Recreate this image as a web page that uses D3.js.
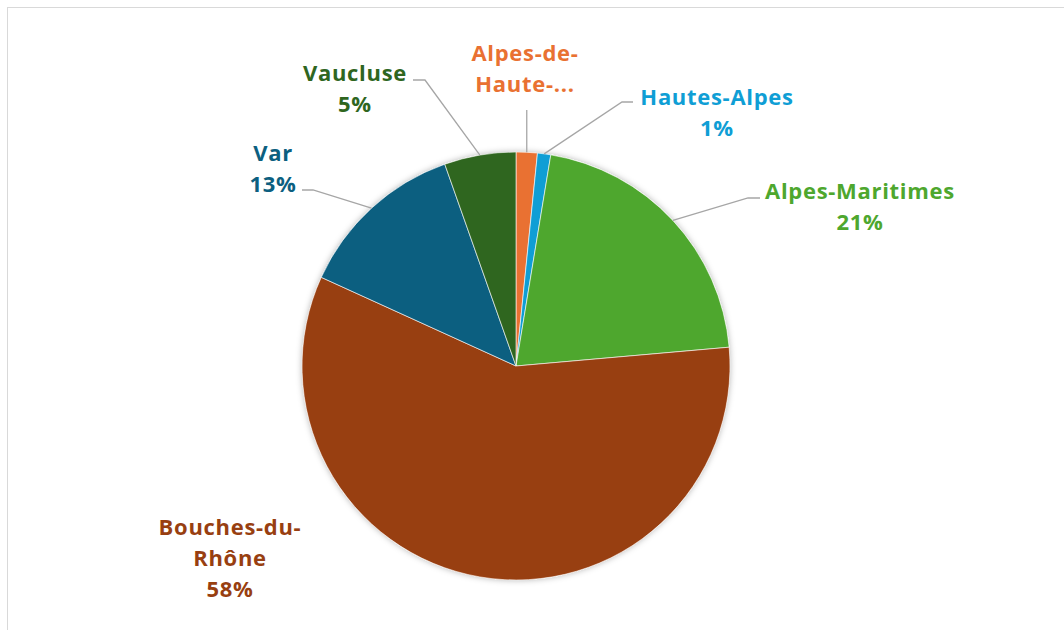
<!DOCTYPE html>
<html>
<head>
<meta charset="utf-8">
<script src="https://cdn.jsdelivr.net/npm/d3@7"></script>
<style>
  html, body { margin: 0; padding: 0; background: #fff; }
  svg { display: block; font-family: 'Open Sans', sans-serif; }
</style>
</head>
<body>
<svg id="chart"></svg>
<script>
const departements = ['Alpes-de-Haute-Provence', 'Hautes-Alpes', 'Alpes-Maritimes', 'Bouches-du-Rhône', 'Var', 'Vaucluse'];
const shares = [1.6, 1.0, 21.0, 58.2, 12.8, 5.4];
const labelLines = [['Alpes-de-', 'Haute-...'], ['Hautes-Alpes', '1%'], ['Alpes-Maritimes', '21%'], ['Bouches-du-', 'Rhône', '58%'], ['Var', '13%'], ['Vaucluse', '5%']];
const colors = ['#e97132', '#0f9ed5', '#4ea72e', '#983f11', '#0c5f80', '#2f661f'];

const w = 1064;
const h = 630;
const cx = 516;
const cy = 366;
const radius = 214;

// label centre (first line) and the elbow of each leader line
const labelPos = [
  { x: 525, y: 53, elbow: null },
  { x: 717, y: 97, elbow: [622, 102], end: [633, 102] },
  { x: 860, y: 191, elbow: [748, 198], end: [760, 198] },
  { x: 230, y: 527, elbow: null },
  { x: 273, y: 153, elbow: [313, 190], end: [302, 190] },
  { x: 355, y: 73, elbow: [425, 80], end: [413, 80] }
];

const svg = d3.select('#chart').attr('width', w).attr('height', h);

svg.append('rect')
  .attr('x', 7.5).attr('y', 7.5)
  .attr('width', w + 10).attr('height', h + 10)
  .attr('fill', '#fff')
  .attr('stroke', '#d9d9d9')
  .attr('stroke-width', 1);

const defs = svg.append('defs');
defs.append('filter')
  .attr('id', 'shadow')
  .attr('x', '-20%').attr('y', '-20%').attr('width', '140%').attr('height', '140%')
  .append('feDropShadow')
  .attr('dx', 0).attr('dy', 0)
  .attr('stdDeviation', 3)
  .attr('flood-color', '#000')
  .attr('flood-opacity', 0.3);

const pie = d3.pie().sort(null).value((d) => d);
const arcs = pie(shares);
const arc = d3.arc().innerRadius(0).outerRadius(radius);

const g = svg.append('g').attr('transform', `translate(${cx},${cy})`);

g.append('circle').attr('r', radius).attr('fill', '#fff').attr('filter', 'url(#shadow)');

g.selectAll('path.slice')
  .data(arcs)
  .enter()
  .append('path')
  .attr('class', 'slice')
  .attr('d', arc)
  .attr('fill', (d, i) => colors[i])
  .attr('stroke', '#fff')
  .attr('stroke-width', 0.6);

// leader lines
arcs.forEach((d, i) => {
  const mid = (d.startAngle + d.endAngle) / 2;
  const px = cx + radius * Math.sin(mid);
  const py = cy - radius * Math.cos(mid);
  const lp = labelPos[i];
  let pts = null;
  if (i === 0) {
    pts = [[px, py], [px, 110]];
  } else if (lp.elbow) {
    pts = [[px, py], lp.elbow, lp.end];
  }
  if (pts) {
    svg.append('path')
      .attr('d', d3.line()(pts))
      .attr('fill', 'none')
      .attr('stroke', '#a6a6a6')
      .attr('stroke-width', 1.3);
  }
});

// labels
labelLines.forEach((lines, i) => {
  const lp = labelPos[i];
  const t = svg.append('text')
    .attr('text-anchor', 'middle')
    .attr('fill', colors[i])
    .attr('font-size', 22)
    .attr('font-weight', 700)
    .attr('letter-spacing', 0.7);
  lines.forEach((s, k) => {
    t.append('tspan')
      .attr('x', lp.x)
      .attr('y', lp.y + k * 31)
      .attr('dy', '0.35em')
      .text(s);
  });
});
</script>
</body>
</html>
